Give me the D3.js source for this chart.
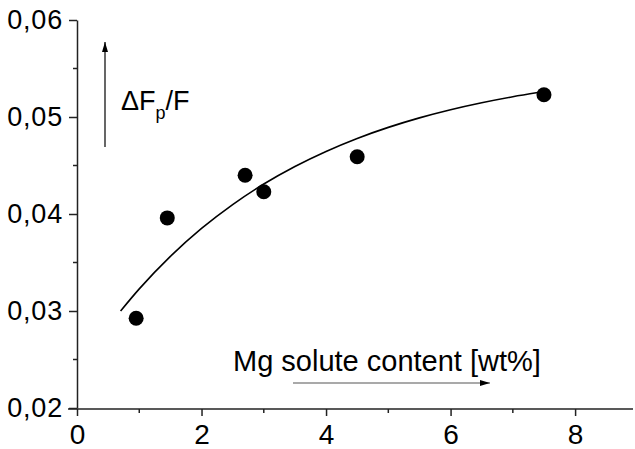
<!DOCTYPE html>
<html>
<head>
<meta charset="utf-8">
<script src="https://cdn.jsdelivr.net/npm/d3@7"></script>
<style>
  body { margin: 0; background: #fff; }
  svg { display: block; }
  text { font-family: "Liberation Sans", Arial, sans-serif; fill: #000; }
</style>
</head>
<body>
<div id="chart"></div>
<script>
// measured points
const mgContent = [0.95, 1.45, 2.7, 3.0, 4.5, 7.5]
const deltaF = [0.02925, 0.0396, 0.0440, 0.0423, 0.0459, 0.0523]

// fitted curve
const fitX = [0.7, 1.0, 1.5, 2.0, 2.5, 3.0, 3.5, 4.0, 4.5, 5.0, 5.5, 6.0, 6.5, 7.0, 7.4]
const fitY = [0.0300, 0.03228, 0.03563, 0.03851, 0.04097, 0.04309, 0.0449, 0.04645,
              0.04779, 0.04893, 0.04991, 0.05075, 0.05147, 0.05209, 0.05252]

const xTicks = [0, 2, 4, 6, 8]
const xMinor = [1, 3, 5, 7]
const yTicks = [0.02, 0.03, 0.04, 0.05, 0.06]
const yMinor = [0.025, 0.035, 0.045, 0.055]

const width = 635, height = 449

let svg = d3.select("#chart")
            .append("svg")
                .attr("width", width)
                .attr("height", height)

let x = d3.scaleLinear().domain([0, 8.93]).range([77, 633])
let y = d3.scaleLinear().domain([0.02, 0.06]).range([408, 20])

const fmt = d => d3.format(".2f")(d).replace(".", ",")

// y axis
let yAxis = svg.append("g")
                .attr("transform", `translate(${x(0)},0)`)
                .call(d3.axisLeft(y).tickValues(yTicks).tickFormat(fmt).tickSize(8).tickSizeOuter(0).tickPadding(6))
yAxis.selectAll("text").attr("font-size", 27).attr("letter-spacing", 0.8)
yAxis.append("g").selectAll("line")
    .data(yMinor).enter()
    .append("line")
        .attr("x1", -4).attr("x2", 0)
        .attr("y1", d => y(d)).attr("y2", d => y(d))
        .attr("stroke", "#222").attr("stroke-width", 1.5)

// x axis
let xAxis = svg.append("g")
                .attr("transform", `translate(0,${y(0.02) + 1})`)
                .call(d3.axisBottom(x).tickValues(xTicks).tickFormat(d3.format("d")).tickSize(7).tickSizeOuter(0).tickPadding(8))
xAxis.selectAll("text").attr("font-size", 28)
xAxis.append("g").selectAll("line")
    .data(xMinor).enter()
    .append("line")
        .attr("x1", d => x(d)).attr("x2", d => x(d))
        .attr("y1", 0).attr("y2", 4)
        .attr("stroke", "#222").attr("stroke-width", 1.5)
xAxis.select(".domain").attr("d", `M${x(0) - 9},0H${x.range()[1]}`)

svg.selectAll(".domain, .tick line").attr("stroke", "#222").attr("stroke-width", 1.5)

// fit curve
let fit = fitX.map((d, i) => [d, fitY[i]])
svg.append("path")
    .datum(fit)
    .attr("fill", "none")
    .attr("stroke", "#000")
    .attr("stroke-width", 1.6)
    .attr("d", d3.line().x(d => x(d[0])).y(d => y(d[1])).curve(d3.curveMonotoneX))

// data points
svg.selectAll("circle.pt")
    .data(mgContent)
    .enter().append("circle")
        .attr("class", "pt")
        .attr("cx", d => x(d))
        .attr("cy", (d, i) => y(deltaF[i]))
        .attr("r", 7.5)
        .attr("fill", "#000")

// arrows
let defs = svg.append("defs")
defs.append("marker")
    .attr("id", "head")
    .attr("viewBox", "0 0 10 6")
    .attr("refX", 10).attr("refY", 3)
    .attr("markerWidth", 10).attr("markerHeight", 6)
    .attr("markerUnits", "userSpaceOnUse")
    .attr("orient", "auto")
  .append("path")
    .attr("d", "M0,0L10,3L0,6Z")
    .attr("fill", "#000")

svg.append("line")
    .attr("x1", 105).attr("y1", 147)
    .attr("x2", 105).attr("y2", 42)
    .attr("stroke", "#000").attr("stroke-width", 1.2)
    .attr("marker-end", "url(#head)")

svg.append("line")
    .attr("x1", 293).attr("y1", 383)
    .attr("x2", 490).attr("y2", 383)
    .attr("stroke", "#555").attr("stroke-width", 1.2)
    .attr("marker-end", "url(#head)")

// labels
let yLabel = svg.append("text")
                .attr("x", 121).attr("y", 110)
                .attr("font-size", 27)
yLabel.append("tspan").text("\u0394F")
yLabel.append("tspan").attr("font-size", 18).attr("dy", 9).text("p")
yLabel.append("tspan").attr("dy", -9).text("/F")

svg.append("text")
    .attr("x", 233).attr("y", 371)
    .attr("font-size", 29)
    .text("Mg solute content [wt%]")
</script>
</body>
</html>
